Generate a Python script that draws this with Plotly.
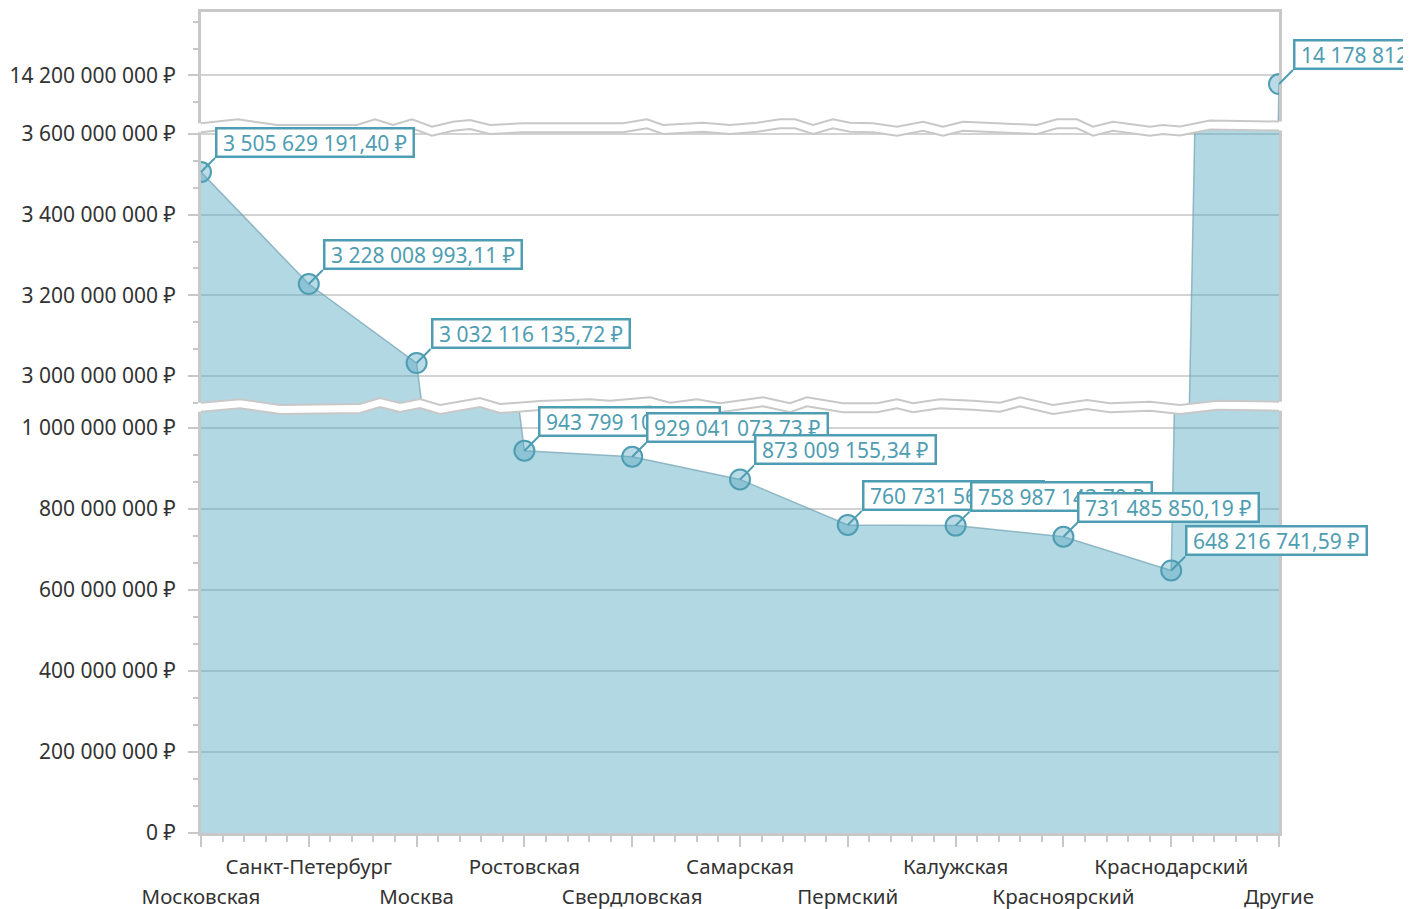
import plotly.graph_objects as go
from plotly.subplots import make_subplots

# ---------------- data ----------------
CATEGORIES = ["Московская", "Санкт-Петербург", "Москва", "Ростовская", "Свердловская",
              "Самарская", "Пермский", "Калужская", "Красноярский", "Краснодарский", "Другие"]
VALUES = [3505629191.40, 3228008993.11, 3032116135.72, 943799104.25, 929041073.73,
          873009155.34, 760731562.10, 758987143.70, 731485850.19, 648216741.59,
          14178812345.67]

# y ranges of the three panels of the broken axis (top, middle, bottom)
RANGE_TOP = [14.0728e9, 14.3568e9]
RANGE_MID = [2.92561e9, 3.6149e9]
RANGE_BOT = [0, 1.05926e9]
Y_TICKS_TOP = [14.2e9]
Y_TICKS_MID = [3.0e9, 3.2e9, 3.4e9, 3.6e9]
Y_TICKS_BOT = [0, 2e8, 4e8, 6e8, 8e8, 1e9]

# ---------------- style ----------------
FONT = "Noto Sans"
GRAY = "#c8c8c8"
GRID = "#d3d3d3"
TEAL = "#4f9db2"
FILL = "rgba(88,170,195,0.46)"
LINE = "rgba(120,165,182,0.75)"

W, H = 1411, 909
OFF = 8                      # page (body) offset of the plot div
PLOT_L, PLOT_R, PLOT_T, PLOT_B = 201, 1279, 12, 833   # target plot area on screen
PW, PH = PLOT_R - PLOT_L, PLOT_B - PLOT_T


def py(ypix):
    return (PLOT_B - ypix) / PH


def px(xpix):
    return (xpix - PLOT_L) / PW


def money_tick(v):
    return f"{v:,.0f}".replace(",", " ") + " ₽"


def money_label(v):
    s = f"{v:,.2f}"
    return s.replace(",", " ").replace(".", ",") + " ₽"


def label_width(text):
    w = 0.0
    for ch in text:
        if ch.isdigit():
            w += 12.0
        elif ch == " ":
            w += 5.5
        elif ch == ",":
            w += 5.0
        else:
            w += 12.0
    return w + 12


X = list(range(len(CATEGORIES)))

fig = make_subplots(rows=3, cols=1, shared_xaxes=True, vertical_spacing=0.0)

for row in (1, 2, 3):
    fig.add_trace(go.Scatter(
        x=X, y=VALUES, mode="lines+markers", fill="tozeroy", fillcolor=FILL,
        line=dict(color=LINE, width=1.5),
        marker=dict(size=20, color="rgba(88,170,195,0.42)", line=dict(color=TEAL, width=2)),
        cliponaxis=True, showlegend=False, hoverinfo="skip"), row=row, col=1)

# invisible helper trace for the second row of category labels
fig.add_trace(go.Scatter(x=[X[0], X[-1]], y=[None, None], xaxis="x4", yaxis="y3",
                         showlegend=False, hoverinfo="skip", mode="lines"))

yax_common = dict(
    showline=True, mirror=True, linecolor=GRAY, linewidth=3,
    ticks="outside", ticklen=10, tickwidth=2, tickcolor=GRAY,
    showgrid=True, gridcolor=GRID, gridwidth=2, zeroline=False,
    tickfont=dict(family=FONT, size=21, color="#333333"),
    ticklabelstandoff=8, automargin=False,
    minor=dict(ticks="outside", ticklen=5, tickwidth=2, tickcolor=GRAY,
               tick0=0, dtick=2e8 / 3, showgrid=False),
)

fig.update_layout(
    yaxis=dict(yax_common, range=RANGE_TOP, domain=[py(127), 1.0], tickmode="array",
               tickvals=Y_TICKS_TOP, ticktext=[money_tick(v) for v in Y_TICKS_TOP]),
    yaxis2=dict(yax_common, range=RANGE_MID, domain=[py(406), py(128)], tickmode="array",
                tickvals=Y_TICKS_MID, ticktext=[money_tick(v) for v in Y_TICKS_MID]),
    yaxis3=dict(yax_common, range=RANGE_BOT, domain=[0.0, py(404)], tickmode="array",
                tickvals=Y_TICKS_BOT, ticktext=[money_tick(v) for v in Y_TICKS_BOT]),
)

fig.update_layout(
    xaxis=dict(range=[X[0], X[-1]], side="top", showline=True, linecolor=GRAY, linewidth=3,
               ticks="", showticklabels=False, showgrid=False, zeroline=False,
               automargin=False),
    xaxis2=dict(range=[X[0], X[-1]], showline=False, ticks="", showticklabels=False,
                showgrid=False, zeroline=False, automargin=False),
    xaxis3=dict(range=[X[0], X[-1]], showline=True, linecolor=GRAY, linewidth=3,
                ticks="outside", ticklen=11, tickwidth=2, tickcolor=GRAY,
                tickmode="array", tickvals=X,
                ticktext=[c if i % 2 == 1 else "" for i, c in enumerate(CATEGORIES)],
                tickfont=dict(family=FONT, size=20.5, color="#333333"),
                ticklabelstandoff=2, automargin=False,
                minor=dict(ticks="outside", ticklen=6, tickwidth=2, tickcolor=GRAY,
                           tick0=0, dtick=0.2, showgrid=False),
                showgrid=False, zeroline=False),
    xaxis4=dict(range=[X[0], X[-1]], overlaying="x3", anchor="y3", side="bottom",
                showline=False, ticks="", tickmode="array", tickvals=X[0::2],
                ticktext=CATEGORIES[0::2], automargin=False,
                tickfont=dict(family=FONT, size=20.5, color="#333333"),
                ticklabelstandoff=49, showgrid=False, zeroline=False),
)

# ---------------- axis-break decorations ----------------
WAVE_A = [(201, 123.3), (238, 119.3), (277, 125), (357, 125), (375, 119.3), (393, 125),
          (412, 119.3), (432, 126.7), (453, 121.7), (470, 120), (490, 125), (523, 123.3),
          (623, 123.3), (647, 119.3), (663, 125), (703, 122.7), (730, 125), (757, 122.7),
          (780, 119.3), (795, 119.3), (813, 125), (833, 119.3), (850, 122.7), (873, 123.3),
          (897, 126.7), (923, 121.7), (943, 126.7), (963, 121.7), (997, 123.3), (1037, 125),
          (1057, 119.3), (1077, 119.3), (1093, 126.7), (1113, 121.7), (1150, 126.7),
          (1163, 125), (1180, 126.5), (1210, 120.5), (1279, 121.5)]
WAVE_B = [(201, 402.7), (240, 399.3), (280, 405), (360, 404), (380, 398), (400, 403),
          (420, 399), (440, 405), (480, 398), (500, 404), (540, 401), (590, 399.3),
          (610, 400.7), (650, 397.3), (670, 402.7), (697, 399.3), (720, 403.3), (763, 397.3),
          (790, 403.3), (807, 397.3), (843, 403.3), (877, 403.3), (897, 399.3), (913, 403.3),
          (940, 399.3), (973, 400.7), (1000, 402.7), (1020, 397.3), (1053, 405), (1087, 400),
          (1110, 403.3), (1150, 401.7), (1180, 405), (1217, 400.7), (1279, 401.7)]
GAP = 9


def pts_path(pts, dy=0.0):
    return " L ".join(f"{px(x):.5f},{py(y + dy):.5f}" for x, y in pts)


shapes = []
for wave in (WAVE_A, WAVE_B):
    ext = [(wave[0][0] - 3, wave[0][1])] + wave + [(wave[-1][0] + 3, wave[-1][1])]
    upper = pts_path(ext)
    lower = " L ".join(f"{px(x):.5f},{py(y + GAP):.5f}" for x, y in reversed(ext))
    shapes.append(dict(type="path", xref="paper", yref="paper", layer="above",
                       path=f"M {upper} L {lower} Z", fillcolor="white",
                       line=dict(width=0)))
    shapes.append(dict(type="path", xref="paper", yref="paper", layer="above",
                       path="M " + pts_path(wave), line=dict(color=GRAY, width=2)))
    shapes.append(dict(type="path", xref="paper", yref="paper", layer="above",
                       path="M " + pts_path(wave, GAP), line=dict(color=GRAY, width=2)))

# ---------------- value labels ----------------
annotations = []
for xi, v in zip(X, VALUES):
    if v >= RANGE_TOP[0]:
        xr, yr = "x", "y"
    elif v >= RANGE_MID[0]:
        xr, yr = "x2", "y2"
    else:
        xr, yr = "x3", "y3"
    txt = money_label(v)
    annotations.append(dict(
        x=xi, y=v, xref=xr, yref=yr, text=txt, showarrow=True,
        ax=14, ay=-14, xanchor="left", yanchor="bottom", arrowhead=0, arrowwidth=2,
        arrowcolor=TEAL, standoff=0, bgcolor="white", bordercolor=TEAL,
        borderwidth=2.5, borderpad=0, width=label_width(txt), height=26, align="center",
        valign="middle", font=dict(family=FONT, size=21, color=TEAL)))

fig.update_layout(
    width=W, height=H,
    margin=dict(l=PLOT_L - OFF, r=W - PLOT_R + OFF, t=PLOT_T - OFF, b=H - PLOT_B + OFF,
                pad=0, autoexpand=False),
    paper_bgcolor="white", plot_bgcolor="white", showlegend=False,
    font=dict(family=FONT, size=20, color="#333333"),
    shapes=shapes, annotations=annotations,
)

fig.write_html("out.html")
